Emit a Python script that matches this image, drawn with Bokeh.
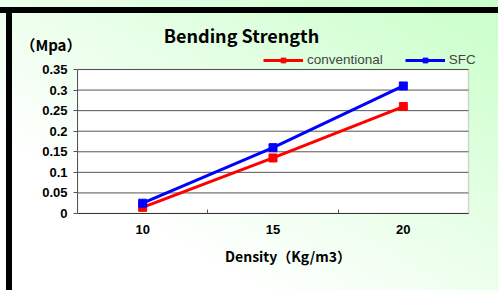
from bokeh.plotting import figure
from bokeh.models import Label, Legend, LegendItem, FixedTicker, LinearAxis, BoxAnnotation
from bokeh.embed import file_html
from bokeh.resources import INLINE

density = [10, 15, 20]
x_tick_labels = ["10", "15", "20"]
conventional = [0.015, 0.135, 0.26]
sfc = [0.025, 0.16, 0.31]
y_ticks = [0, 0.05, 0.1, 0.15, 0.2, 0.25, 0.3, 0.35]
y_tick_labels = ["0", "0.05", "0.1", "0.15", "0.2", "0.25", "0.3", "0.35"]

X_MIN, X_MAX = 7.5, 22.5
Y_MAX = 0.35
# the frame is extended above / right of the plot box so title and legend fit in it
Y_TOP = Y_MAX * 213 / 144
X_RIGHT = X_MAX + (X_MAX - X_MIN) * 30 / 391
Y_UNIT = Y_MAX * (213 - 44) / 144   # height of the unit label

bg = ("linear-gradient(black, black) 0 7px / 100% 6px no-repeat, "
      "linear-gradient(black, black) 6px 7px / 6px 100% no-repeat, "
      "linear-gradient(to top right, #ffffff 25%, #c8ffc8 100%)")

p = figure(width=498, height=290, output_backend="svg", toolbar_location=None,
           x_range=(X_MIN, X_RIGHT), y_range=(0, Y_TOP),
           min_border_left=77, min_border_right=0, min_border_top=0, min_border_bottom=77,
           styles={"background": bg})
p.border_fill_alpha = 0
p.background_fill_alpha = 0
p.outline_line_color = None

# white plot box
p.add_layout(BoxAnnotation(left=X_MIN, right=X_MAX, bottom=0, top=Y_MAX,
                           fill_color="white", fill_alpha=1,
                           line_color="#808080", line_width=1.5, level="underlay"))

# horizontal grid lines limited to the plot box
p.segment(x0=[X_MIN] * len(y_ticks), x1=[X_MAX] * len(y_ticks), y0=y_ticks, y1=y_ticks,
          line_color="#555555", line_width=1)
p.xgrid.grid_line_color = None
p.ygrid.grid_line_color = None

# y axis
p.yaxis.ticker = FixedTicker(ticks=y_ticks)
p.yaxis.bounds = (0, Y_MAX)
p.yaxis.major_label_overrides = {t: l for t, l in zip(y_ticks, y_tick_labels)}
p.yaxis.major_label_text_font = "Liberation Sans"
p.yaxis.major_label_text_font_style = "bold"
p.yaxis.major_label_text_font_size = "13px"
p.yaxis.major_label_text_color = "black"
p.yaxis.major_tick_in = 0
p.yaxis.major_tick_out = 4
p.yaxis.minor_tick_line_color = None
p.yaxis.axis_line_color = "#555555"
p.yaxis.major_tick_line_color = "#555555"
p.yaxis.major_label_standoff = 6

# unit label, as the only tick label of a second (otherwise empty) left axis
unit_axis = LinearAxis(ticker=FixedTicker(ticks=[Y_UNIT]),
                       major_label_overrides={Y_UNIT: "（Mpa）"},
                       axis_line_color=None, major_tick_line_color=None,
                       minor_tick_line_color=None, major_tick_out=0, minor_tick_out=0,
                       major_tick_in=0, minor_tick_in=0,
                       major_label_standoff=-42,
                       major_label_text_font="Noto Sans CJK JP",
                       major_label_text_font_style="bold",
                       major_label_text_font_size="15px",
                       major_label_text_color="black")
p.add_layout(unit_axis, "left")

# x axis
p.xaxis.ticker = FixedTicker(ticks=density, minor_ticks=[12.5, 17.5])
p.xaxis.bounds = (X_MIN, X_MAX)
p.xaxis.major_label_overrides = {d: l for d, l in zip(density, x_tick_labels)}
p.xaxis.major_label_text_font = "Liberation Sans"
p.xaxis.major_label_text_font_style = "bold"
p.xaxis.major_label_text_font_size = "13px"
p.xaxis.major_label_text_color = "black"
p.xaxis.major_tick_line_color = None
p.xaxis.minor_tick_in = 4
p.xaxis.minor_tick_out = 0
p.xaxis.minor_tick_line_color = "#555555"
p.xaxis.axis_line_color = "#333333"
p.xaxis.major_label_standoff = 5
p.xaxis.axis_label = "Density（Kg/m3）"
p.xaxis.axis_label_text_font = "Noto Sans CJK JP"
p.xaxis.axis_label_text_font_style = "bold"
p.xaxis.axis_label_text_font_size = "14px"
p.xaxis.axis_label_text_color = "black"
p.xaxis.axis_label_standoff = 9

r1 = p.line(density, conventional, line_color="#ff0000", line_width=3)
s1 = p.scatter(density, conventional, marker="square", size=8, color="#ff0000")
r2 = p.line(density, sfc, line_color="#0000ff", line_width=3)
s2 = p.scatter(density, sfc, marker="square", size=8, color="#0000ff")

legend = Legend(items=[LegendItem(label="conventional", renderers=[r1, s1]),
                       LegendItem(label="SFC", renderers=[r2, s2])],
                location=(186, 146), orientation="horizontal",
                glyph_width=40, glyph_height=12, label_text_font="Liberation Sans",
                label_text_font_size="13.5px", label_standoff=4, spacing=22,
                padding=0, margin=0, border_line_color=None, background_fill_alpha=0)
p.add_layout(legend, "center")

title = Label(x=10.81, y=0.435, text="Bending Strength",
              text_font="Noto Sans CJK JP", text_font_style="bold",
              text_font_size="18px", text_baseline="middle", text_color="black")
p.add_layout(title)

open("out.html", "w").write(file_html(p, INLINE))
